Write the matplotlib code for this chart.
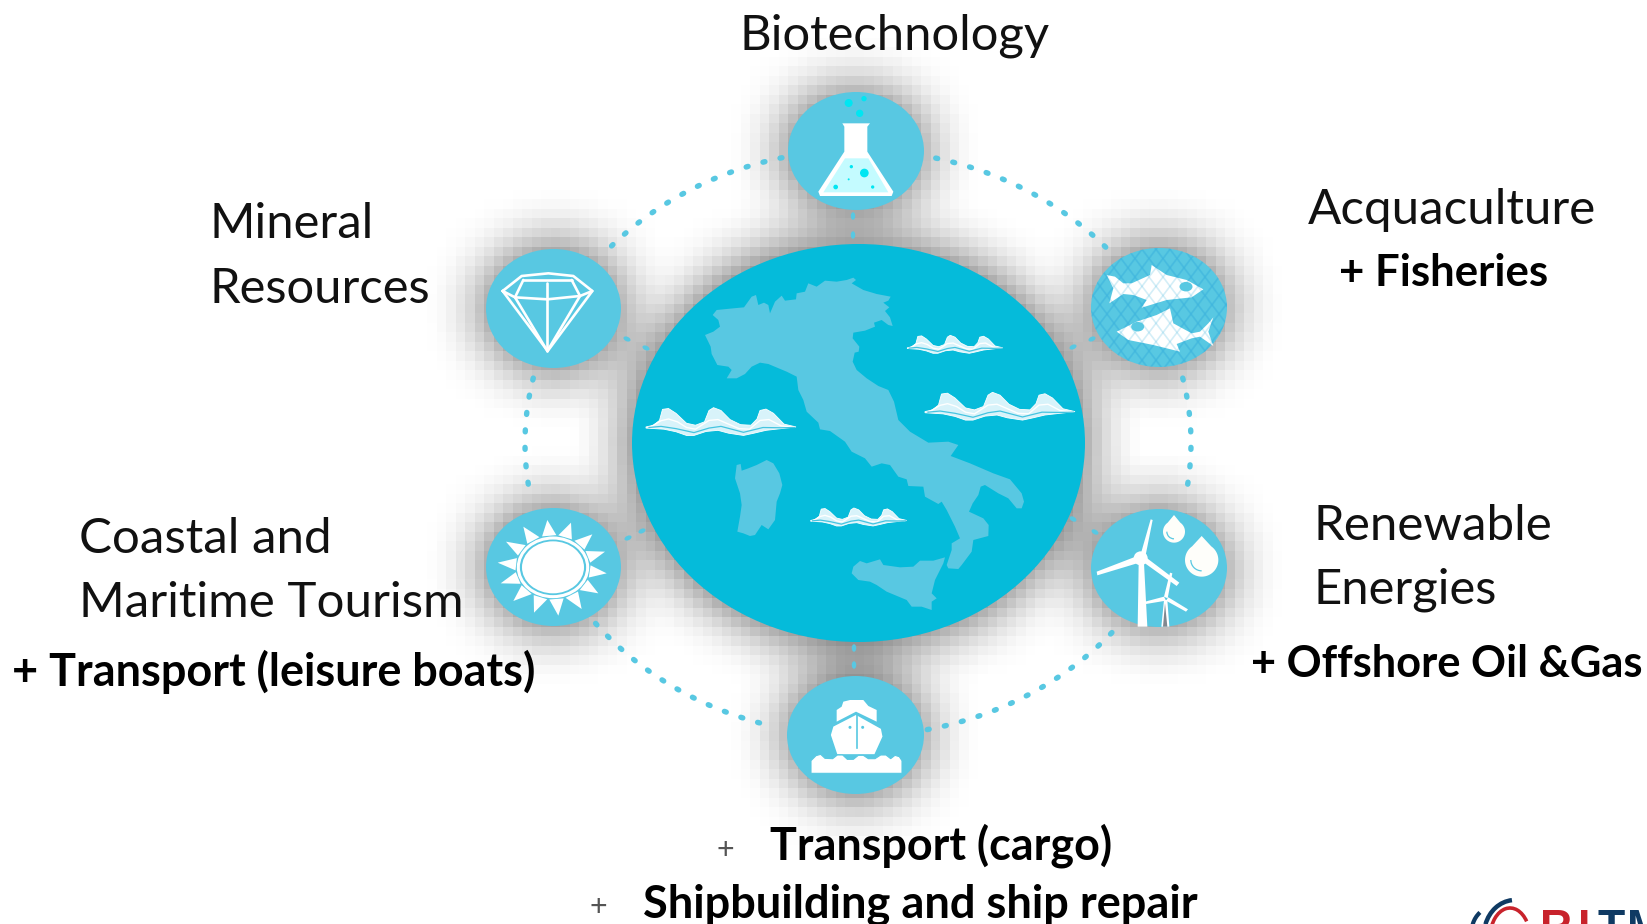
import numpy as np
import matplotlib
matplotlib.use("Agg")
import matplotlib.pyplot as plt
from matplotlib.patches import Ellipse, Polygon, Circle, Arc

FONT = "Lato"
W, H = 1647, 924
GLOBE = "#05BBDA"
LIGHT = "#58C8E2"

# labels: text, x, baseline y, weight, size
labels = [
    ("Biotechnology", 740, 49, "normal", 35.3),
    ("Mineral", 210, 238, "normal", 35.3),
    ("Resources", 210, 303, "normal", 35.3),
    ("Acquaculture", 1308, 224, "normal", 35.5),
    ("+ Fisheries", 1339, 286, "bold", 31.5),
    ("Renewable", 1314, 540, "normal", 35.5),
    ("Energies", 1314, 604, "normal", 35.3),
    ("+ Offshore Oil &Gas", 1251, 677, "bold", 31.2),
    ("Coastal and", 79, 553, "normal", 35.5),
    ("Maritime Tourism", 79, 617, "normal", 35.5),
    ("+ Transport (leisure boats)", 12, 686, "bold", 32.4),
    ("Transport (cargo)", 770, 860, "bold", 32.3),
    ("Shipbuilding and ship repair", 643, 918, "bold", 32.5),
]
plus_marks = [("+", 725, 859), ("+", 598, 916)]

# ellipses: centre x, centre y, rx, ry
globe = (858.5, 443, 226.5, 199)
nodes = {
    "biotech": (856, 151, 68, 59),
    "mineral": (553.5, 308.5, 67.5, 59.5),
    "fish": (1159, 307.5, 68, 59.5),
    "wind": (1159, 568, 68, 59),
    "sun": (553.5, 567, 67.5, 59),
    "ship": (855.5, 735, 68.5, 59),
}
ring = (858, 443, 333, 293)
ring_arcs = [(103.2, 140.2), (76.5, 39.5), (12.8, -10.8), (167.2, 190.8), (-78, -38), (218, 255)]
spokes = [
    ((853, 216), (853, 235)), ((627, 339), (646, 348)), ((1092, 339), (1073, 347)),
    ((1073, 519), (1095, 532)), ((628, 538), (642, 531)), ((854, 648), (854, 665)),
]
spoke_angles = [90, 25, -25, 30, -25, 90]

italy = [(700,143),(708,150),(695,160),(730,180),(770,192),(812,200),(805,212),(790,218),(808,232),(795,243),(810,262),(818,288),(805,285),(785,270),(762,278),(765,290),(735,302),(700,308),(698,325),(718,350),(716,365),(704,368),(698,395),(710,420),(740,445),(775,468),(805,480),(822,515),(835,570),(870,605),(925,638),(985,635),(1015,645),(992,678),(1050,700),(1120,730),(1170,748),(1205,790),(1212,815),(1205,835),(1190,835),(1165,805),(1135,790),(1095,765),(1082,770),(1075,795),(1058,820),(1047,845),(1090,865),(1106,885),(1105,918),(1060,930),(1055,965),(1025,1005),(1015,1017),(985,1015),(980,1005),(995,960),(995,940),(1020,925),(1005,890),(980,840),(965,815),(955,822),(915,800),(910,770),(865,768),(860,748),(835,740),(810,705),(785,700),(755,710),(735,685),(695,665),(675,635),(630,603),(600,598),(595,578),(560,545),(550,510),(535,480),(530,440),(500,425),(445,402),(420,398),(395,410),(375,432),(350,445),(320,445),(335,420),(325,410),(292,405),(275,372),(272,350),(255,315),(280,305),(300,290),(295,270),(278,255),(290,240),(340,235),(372,232),(395,200),(408,195),(415,225),(432,218),(445,225),(450,250),(465,215),(485,197),(495,212),(528,208),(530,190),(555,185),(565,160),(590,170),(615,152),(650,155),(680,150)]
sardinia = [(350,705),(362,702),(365,722),(385,715),(410,705),(440,690),(460,700),(478,730),(487,765),(480,790),(470,815),(465,870),(445,898),(425,885),(405,915),(390,918),(370,910),(352,905),(360,860),(365,825),(360,790),(345,745)]
sicily = [(975,982),(970,1000),(945,1050),(935,1090),(950,1105),(935,1115),(935,1140),(905,1130),(875,1130),(860,1110),(800,1085),(770,1065),(750,1055),(715,1050),(695,1030),(700,1010),(720,993),(740,1000),(780,988),(790,1005),(840,1012),(880,1010),(900,992),(940,992)]

# wave boxes in globe-crop coordinates: x0, y0, width, height
wave_boxes = [(78, 533, 450, 85), (915, 487, 450, 85), (862, 316, 286, 55), (572, 834, 288, 55)]
wave_top = [(0,.68),(.05,.62),(.09,.45),(.11,.06),(.15,.03),(.2,.2),(.27,.55),(.33,.62),(.39,.5),(.42,.1),(.45,0),(.5,.1),(.56,.42),(.63,.6),(.7,.62),(.74,.4),(.76,.1),(.8,.05),(.85,.2),(.92,.58),(1,.68)]
wave_low = [(.9,.74),(.8,.8),(.72,.9),(.65,.98),(.55,.9),(.48,.8),(.4,.84),(.32,.98),(.27,.98),(.2,.85),(.12,.76),(0,.72)]
wave_line_a = [(.03,.68),(.1,.46),(.15,.4),(.21,.5),(.27,.7),(.33,.76),(.42,.45),(.48,.42),(.55,.58),(.62,.74),(.69,.76),(.76,.45),(.82,.42),(.9,.64),(.98,.69)]
wave_line_b = [(.02,.7),(.1,.66),(.2,.74),(.32,.88),(.42,.72),(.5,.66),(.65,.87),(.78,.7),(.9,.71),(.99,.7)]

flask_glass = [(1147,190),(1230,190),(1222,200),(1222,275),(1300,395),(1295,408),(1080,408),(1075,395),(1153,275),(1153,200)]
flask_liquid = [(1155,295),(1225,295),(1285,397),(1090,397)]
flask_bubbles = [(1166,129,12),(1212,116,8),(1199,160,11),(1174,320,5),(1213,339,13),(1166,358,3),(1127,381,7),(1238,381,5)]
diamond_lines = [
    [(128,693),(185,648),(265,640),(340,648),(397,693),(263,873),(128,693)],
    [(128,693),(165,712),(262,718),(360,708),(397,693)],
    [(190,660),(335,660)], [(165,712),(190,660)], [(360,708),(335,660)],
    [(262,668),(262,873)], [(165,712),(262,873)], [(360,708),(262,873)],
]
fish_a = [(140,165),(165,170),(190,190),(215,190),(270,165),(275,135),(320,165),(380,180),(430,208),(395,232),(320,240),(245,263),(260,240),(220,225),(190,222),(148,250),(160,205)]
fish_b = [(460,292),(445,310),(420,335),(395,340),(340,310),(330,265),(290,285),(230,305),(170,335),(205,360),(280,375),(360,395),(350,372),(395,355),(420,350),(460,378),(445,335)]
fish_eyes = [(378,200,13),(233,320,13)]
net_columns = [1086,1100,1114,1128,1142,1156,1170,1184,1198,1212,1226]
turbine_towers = [[(236,1030),(252,1030),(262,1220),(233,1220)], [(312,1140),(322,1140),(328,1220),(304,1220)]]
turbine_blades = [[(240,1010),(272,898),(278,900),(255,1015)], [(232,1008),(110,1055),(112,1066),(238,1028)], [(248,1025),(350,1098),(358,1088),(255,1010)],
                  [(312,1130),(330,1058),(337,1060),(323,1135)], [(312,1130),(255,1145),(258,1152),(318,1142)], [(318,1142),(378,1175),(384,1168),(325,1132)]]
drops = [(342,935,33,50),(425,1020,50,72)]
sun_tips = [(262,90),(333,98),(397,133),(435,185),(440,250),(415,310),(365,357),(295,377),(222,368),(160,333),(122,280),(113,218),(138,155),(190,110)]
ship_upper = [(1130,695),(1130,660),(1145,650),(1150,635),(1170,630),(1210,630),(1225,648),(1250,660),(1250,695),(1188,665)]
ship_hull = [(1188,672),(1265,715),(1270,740),(1245,795),(1130,795),(1110,735),(1118,708)]
ship_sea = [(1053,850),(1053,812),(1068,797),(1082,793),(1095,805),(1118,806),(1132,795),(1148,795),(1162,808),(1180,808),(1195,796),(1210,796),(1225,806),(1245,806),(1262,795),(1278,795),(1292,806),(1305,796),(1318,800),(1326,812),(1326,850)]

# logo arcs: cx, cy, rx, ry, colour, line width, start, end
logo_arcs = [(1505,930,33,27,"#0F3A63",3.0,170,215),(1515,935,31,35,"#0F3A63",3.2,200,265),(1510,938,20,30,"#C8232C",2.6,190,315)]
logo_letters = [("R",1540,"#C8232C"),("I",1578,"#C8232C"),("T",1597,"#0F3A63"),("M",1627,"#0F3A63")]

plt.rcParams["lines.scale_dashes"] = False
fig = plt.figure(figsize=(W/100, H/100), dpi=100)
ax = fig.add_axes([0, 0, 1, 1])
ax.set_xlim(0, W); ax.set_ylim(H, 0); ax.axis("off")
ax.set_aspect("equal")

# blocky blurred drop shadow
CELL = 9.5
nx, ny = int(W/CELL)+1, int(H/CELL)+1
xx, yy = np.meshgrid((np.arange(nx)+.5)*CELL, (np.arange(ny)+.5)*CELL)
mask = np.zeros_like(xx)
for cx, cy, rx, ry in [globe] + list(nodes.values()):
    mask = np.maximum(mask, (((xx-cx)/(rx+1))**2 + ((yy-cy)/(ry+1))**2 <= 1).astype(float))
def box(a, n, axis):
    k = np.ones(n)/n
    return np.apply_along_axis(lambda v: np.convolve(v, k, mode="same"), axis, a)
blur = mask
for _ in range(2):
    blur = box(box(blur, 7, 0), 7, 1)
shade = 1 - 0.68*blur
ax.imshow(shade, extent=(0, nx*CELL, ny*CELL, 0), cmap="gray", vmin=0, vmax=1,
          interpolation="nearest", zorder=0, aspect="auto")
ax.set_xlim(0, W); ax.set_ylim(H, 0)

# dotted ring
dash = dict(color=LIGHT, lw=3.9, dash_capstyle="round", linestyle=(0, (1.4, 11.2)), zorder=1)
for a, b in ring_arcs:
    t = np.radians(np.linspace(a, b, 80))
    ax.plot(ring[0]+ring[2]*np.cos(t), ring[1]-ring[3]*np.sin(t), **dash)
for (p, q), ang in zip(spokes, spoke_angles):
    for x, y in (p, q):
        ax.add_patch(Ellipse((x, y), 7.5, 4.5, angle=ang, color=LIGHT, lw=0, zorder=1))

# globe and nodes
ax.add_patch(Ellipse(globe[:2], 2*globe[2], 2*globe[3], color=GLOBE, lw=0, zorder=2))
for cx, cy, rx, ry in nodes.values():
    ax.add_patch(Ellipse((cx, cy), 2*rx, 2*ry, color=LIGHT, lw=0, zorder=2))

def gl(pts):
    return [(620+x/3, 230+y/3) for x, y in pts]
def tl(pts):
    return [(460+x/3, 60+y/3) for x, y in pts]
def rt(pts):
    return [(1060+x/3, 220+y/3) for x, y in pts]
def bl(pts):
    return [(460+x/3, 490+y/3) for x, y in pts]

for shape in (italy, sardinia, sicily):
    ax.add_patch(Polygon(gl(shape), closed=True, color=LIGHT, lw=0, zorder=3))

for x0, y0, w, h in wave_boxes:
    f = lambda pts: gl([(x0+u*w, y0+v*h) for u, v in pts])
    ax.add_patch(Polygon(f(wave_top+wave_low), closed=True, fc="#D8F3FA", ec="white", lw=0.6, zorder=3))
    ax.plot(*zip(*f(wave_line_a)), color="white", lw=1.0, zorder=4)
    ax.plot(*zip(*f(wave_line_b)), color="#45C4E0", lw=0.9, zorder=4)

# flask
ax.add_patch(Polygon(tl(flask_glass), closed=True, color="white", lw=0, zorder=4))
ax.add_patch(Polygon(tl(flask_liquid), closed=True, color="#C4FBFF", lw=0, zorder=5))
for x, y, r in flask_bubbles:
    c = tl([(x, y)])[0]
    ax.add_patch(Circle(c, r/3, color="#00E6F2", lw=0, zorder=6))

# diamond
for seg in diamond_lines:
    ax.plot(*zip(*tl(seg)), color="white", lw=1.9, solid_capstyle="round", solid_joinstyle="round", zorder=4)

# fish with net
fcx, fcy, frx, fry = nodes["fish"]
clip = Ellipse((fcx, fcy), 2*frx, 2*fry, transform=ax.transData, fc="none", ec="none")
ax.add_patch(clip)
ys = np.arange(240, 376, 18.5)
for x in net_columns:
    for s in (0, 1):
        zig = x + 7*(-1.0)**(np.arange(len(ys))+s)
        for z, al in ((3.5, .45), (5.5, .22)):
            ln, = ax.plot(zig, ys, color="#3DB4DE", lw=1.2, alpha=al, zorder=z)
            ln.set_clip_path(clip)
ax.add_patch(Polygon(rt(fish_a), closed=True, color="white", lw=0, zorder=4))
ax.add_patch(Polygon(rt(fish_b), closed=True, color="white", lw=0, zorder=4))
for x, y, r in fish_eyes:
    ax.add_patch(Ellipse(rt([(x, y)])[0], r/3*3, r/3*2.2, color=LIGHT, lw=0, zorder=6))

# wind
for poly in turbine_towers + turbine_blades:
    ax.add_patch(Polygon(rt(poly), closed=True, color="white", lw=0, zorder=4))
ax.add_patch(Circle(rt([(242,1015)])[0], 7, color="white", lw=0, zorder=4))
ax.add_patch(Polygon(rt([(315,1150),(322,1220),(309,1220)]), closed=True, color="#808890", lw=0, zorder=5))
for x, y, r, up in drops:
    th = np.radians(np.linspace(-55, 235, 60))
    cx, cy = rt([(x, y)])[0]
    rr = r/3
    pts = [(cx, cy-up/3)] + [(cx+rr*np.cos(a), cy+rr*np.sin(a)) for a in th]
    ax.add_patch(Polygon(pts, closed=True, color="#FEFEFA", lw=0, zorder=4))
    ax.add_patch(Arc((cx, cy), rr*1.3, rr*1.3, theta1=90, theta2=180, color=LIGHT, lw=.9, zorder=5))

# sun
scx, scy = bl([(279, 232)])[0]
ax.add_patch(Ellipse((scx, scy), 2*93/3, 2*78/3, color="white", lw=0, zorder=4))
ax.add_patch(Ellipse((scx, scy), 2*104/3, 2*88/3, fc="none", ec="white", lw=2.2, zorder=4))
for x, y in sun_tips:
    tx, ty = bl([(x, y)])[0]
    a = np.arctan2((ty-scy)/97*3, (tx-scx)/113*3)
    d = np.radians(11)
    b1 = (scx+113/3*np.cos(a-d), scy+97/3*np.sin(a-d))
    b2 = (scx+113/3*np.cos(a+d), scy+97/3*np.sin(a+d))
    ax.add_patch(Polygon([(tx, ty), b1, b2], closed=True, color="white", lw=0, zorder=4))

# ship
ax.add_patch(Polygon(bl(ship_upper), closed=True, color="white", lw=0, zorder=4))
ax.add_patch(Polygon(bl(ship_hull), closed=True, fc="white", ec=LIGHT, lw=1.2, zorder=5))
ax.add_patch(Polygon(bl(ship_sea), closed=True, fc="white", ec=LIGHT, lw=.8, zorder=6))
ax.plot(*zip(*bl([(1190,675),(1190,775)])), color=LIGHT, lw=1.2, zorder=7)
for x in (1170, 1208):
    ax.add_patch(Circle(bl([(x,712)])[0], 1.5, color=LIGHT, lw=0, zorder=7))

# text
for s, x, y, wt, size in labels:
    ax.text(x, y, s, family=FONT, fontweight=wt, fontsize=size, color="#111111" if wt == "normal" else "black",
            ha="left", va="baseline", zorder=8)
for s, x, y in plus_marks:
    ax.text(x, y, s, family=FONT, fontsize=22, color="#555555", ha="center", va="baseline", zorder=8)

# cropped logo
for cx, cy, rx, ry, col, lw, t0, t1 in logo_arcs:
    ax.add_patch(Arc((cx, cy), 2*rx, 2*ry, theta1=t0, theta2=t1, color=col, lw=lw, zorder=8))
for s, x, col in logo_letters:
    ax.text(x, 941, s, family="Liberation Sans", fontweight="bold", fontsize=32, color=col, ha="left", va="baseline", zorder=8, clip_on=True)

fig.savefig("out.png", dpi=100)
